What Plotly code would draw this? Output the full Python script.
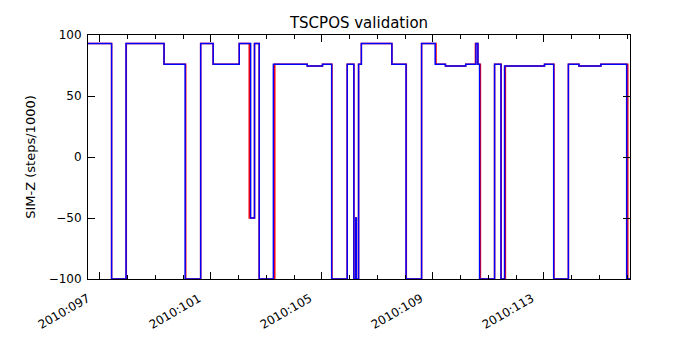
import plotly.graph_objects as go

# day-of-year 2010, step transitions (value holds until next time)
blue_t = [96.57, 97.42, 97.94, 99.31, 100.07, 100.63, 101.08, 102.02, 102.43, 102.57,
          102.74, 103.25, 104.47, 105.02, 105.35, 105.91, 106.15, 106.22, 106.24, 106.32,
          106.42, 107.52, 108.03, 108.59, 109.08, 109.45, 110.18, 110.55, 110.62, 110.68,
          111.22, 111.45, 111.58, 113.02, 113.35, 113.88, 114.26, 115.05, 115.98, 116.10]
blue_v = [93, -100, 93, 76, -100, 93, 76, 93, -50, 93,
          -100, 76, 74.5, 76, -100, 76, -100, -50, -100, 76,
          93, 76, -100, 93, 76, 74.5, 76, 93, 76, -100,
          76, -100, 74.5, 76, -100, 76, 74.5, 76, -100, -100]

red_t = [96.57, 97.42, 97.95, 99.31, 100.09, 100.63, 101.08, 102.02, 102.38, 102.57,
         102.74, 103.30, 104.47, 105.02, 105.36, 105.91, 106.15, 106.22, 106.24, 106.32,
         106.42, 107.52, 108.04, 108.59, 109.11, 109.45, 110.18, 110.53, 110.62, 110.71,
         111.22, 111.46, 111.61, 113.02, 113.36, 113.88, 114.26, 115.05, 116.02, 116.10]
red_v = blue_v

tick_days = [97, 101, 105, 109, 113]
tick_text = ["2010:%03d" % d for d in tick_days]

fig = go.Figure()
fig.add_trace(go.Scatter(x=red_t, y=red_v, mode="lines", line_shape="hv",
                         line=dict(color="red", width=1.5)))
fig.add_trace(go.Scatter(x=blue_t, y=blue_v, mode="lines", line_shape="hv",
                         line=dict(color="blue", width=1.5)))

# page body adds an 8px offset, margins compensate for it
fig.update_layout(
    width=700, height=350,
    margin=dict(l=80, r=78, t=27, b=79),
    paper_bgcolor="white", plot_bgcolor="white",
    showlegend=False,
    font=dict(family="DejaVu Sans", size=12, color="black"),
    title=dict(text="TSCPOS validation", x=(359 - 8) / 700, xanchor="center",
               xref="container", y=1 - 15 / 350, yanchor="middle", font=dict(size=15)),
)
fig.update_xaxes(range=[96.57, 116.10], tickvals=tick_days, ticktext=tick_text,
                 tickangle=-30, ticks="inside", ticklen=7, tickcolor="black",
                 tickfont=dict(size=12), automargin=False,
                 ticklabelshift=-12, ticklabelstandoff=7,
                 showgrid=False, zeroline=False, showline=True, linecolor="black",
                 linewidth=1, mirror="ticks",
                 minor=dict(dtick=1, tick0=97, ticks="inside", ticklen=4, tickcolor="black"))
fig.update_yaxes(range=[-100, 100], tickvals=[-100, -50, 0, 50, 100],
                 ticktext=["\u2212100", "\u221250", "0", "50", "100"],
                 ticks="inside", ticklen=7, tickcolor="black", ticklabelstandoff=3,
                 tickfont=dict(size=12), automargin=False,
                 showgrid=False, zeroline=False, showline=True, linecolor="black",
                 linewidth=1, mirror="ticks",
                 title=dict(text="SIM-Z (steps/1000)", standoff=10, font=dict(size=13)))

fig.write_html("out.html")
